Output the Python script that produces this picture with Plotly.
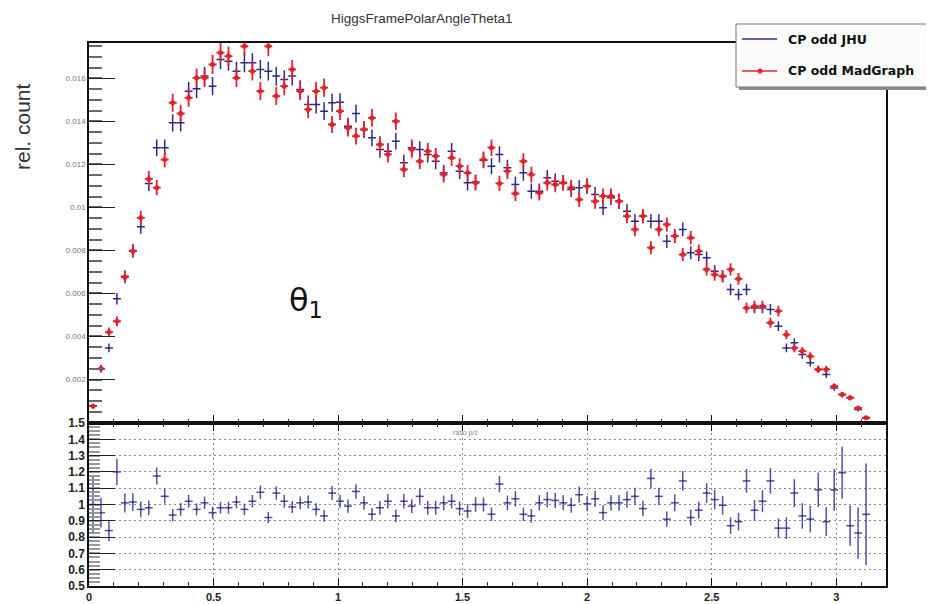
import numpy as np
import plotly.graph_objects as go

# ---------------- data ----------------
bin_width = 0.032  # 100 bins on [0, 3.2]

jhu = [0.00078, 0.0025, 0.00347, 0.00575, 0.0068, 0.0080, 0.0091, 0.01112, 0.01278, 0.01278,
       0.01394, 0.01394, 0.01541, 0.01552, 0.01611, 0.01564, 0.01688, 0.0168, 0.01634, 0.01673,
       0.01673, 0.01642, 0.01634, 0.01611, 0.01595, 0.01611, 0.01549, 0.01479, 0.01479, 0.01448,
       0.01487, 0.0149, 0.01378, 0.01437, 0.01363, 0.01324, 0.0127, 0.01262, 0.01308, 0.01208,
       0.01278, 0.0127, 0.01247, 0.01215, 0.01161, 0.01262, 0.01169, 0.01115, 0.01118, 0.0122,
       0.01192, 0.01247, 0.01185, 0.01107, 0.01161, 0.01076, 0.01076, 0.01138, 0.01122, 0.01115,
       0.01084, 0.01092, 0.01099, 0.0106, 0.00999, 0.01045, 0.01029, 0.00983, 0.00936, 0.0096,
       0.00936, 0.00936, 0.00843, 0.00867, 0.00898, 0.00789, 0.00781, 0.00766, 0.00704, 0.0068,
       0.00619, 0.00595, 0.00619, 0.00533, 0.00533, 0.00526, 0.00448, 0.00347, 0.00371, 0.00316,
       0.00278, 0.00247, 0.00223, 0.00161, 0.0013, 0.00115, 0.0006, 0.0002]

madgraph = [0.00076, 0.00251, 0.0042, 0.00471, 0.00676, 0.00797, 0.00952, 0.01133, 0.01092, 0.01223,
            0.01487, 0.01437, 0.0151, 0.01603, 0.01603, 0.01665, 0.0172, 0.01704, 0.01603, 0.0175,
            0.01634, 0.01541, 0.0175, 0.01518, 0.01564, 0.01642, 0.01541, 0.01456, 0.01541, 0.01557,
            0.01386, 0.01448, 0.0137, 0.01332, 0.01363, 0.01417, 0.01293, 0.01247, 0.01401, 0.01177,
            0.0127, 0.01215, 0.01262, 0.01239, 0.01153, 0.01231, 0.01192, 0.01161, 0.01115, 0.01223,
            0.01278, 0.01112, 0.01169, 0.01065, 0.01215, 0.01153, 0.01068, 0.01115, 0.01107, 0.01115,
            0.01092, 0.01037, 0.01099, 0.01029, 0.01053, 0.01053, 0.01029, 0.0096, 0.00898, 0.0096,
            0.00813, 0.00898, 0.00921, 0.00867, 0.00781, 0.00859, 0.00797, 0.00712, 0.00688, 0.0068,
            0.00712, 0.00668, 0.00533, 0.00541, 0.00541, 0.00464, 0.00518, 0.00409, 0.00347, 0.00332,
            0.00308, 0.00247, 0.00247, 0.00169, 0.0013, 0.00115, 0.00068, 0.00022]

ratio = [1.0, 0.95, 0.84, 1.20, 1.01, 1.015, 0.97, 0.98, 1.175, 1.05,
         0.935, 0.97, 1.02, 0.97, 1.01, 0.95, 0.98, 0.98, 1.015, 0.97,
         1.02, 1.075, 0.92, 1.07, 1.02, 0.985, 1.01, 1.015, 0.97, 0.93,
         1.07, 1.02, 0.99, 1.08, 1.01, 0.94, 0.98, 1.02, 0.93, 1.02,
         0.99, 1.05, 0.98, 0.98, 1.01, 1.02, 0.975, 0.96, 1.0, 1.0,
         0.94, 1.125, 1.01, 1.035, 0.94, 0.93, 1.01, 1.03, 1.025, 1.01,
         0.995, 1.06, 1.005, 1.035, 0.95, 1.01, 1.01, 1.03, 1.05, 0.975,
         1.16, 1.05, 0.91, 1.01, 1.145, 0.92, 0.965, 1.07, 1.03, 0.995,
         0.87, 0.895, 1.145, 0.965, 1.02, 1.145, 0.855, 0.855, 1.07, 0.93,
         0.91, 1.09, 0.895, 1.09, 1.195, 0.87, 0.825, 0.94]

top_ticks = [0.002, 0.004, 0.006, 0.008, 0.01, 0.012, 0.014, 0.016]
top_tick_text = ["0.002", "0.004", "0.006", "0.008", "0.01", "0.012", "0.014", "0.016"]
ratio_ticks = [0.5, 0.6, 0.7, 0.8, 0.9, 1.0, 1.1, 1.2, 1.3, 1.4, 1.5]
ratio_tick_text = ["0.5", "0.6", "0.7", "0.8", "0.9", "1", "1.1", "1.2", "1.3", "1.4", "1.5"]

# ---------------- derived ----------------
jhu_a = np.array(jhu)
mg_a = np.array(madgraph)
rat_a = np.array(ratio)
x = (np.arange(len(jhu)) + 0.5) * bin_width
k = 0.0034  # statistical error scale (err ~ k*sqrt(value))
err_j = k * np.sqrt(jhu_a)
err_m = k * np.sqrt(mg_a)
err_r = rat_a * k * np.sqrt(1.0 / jhu_a + 1.0 / mg_a)

BLUE = "#2c2c88"
RED = "#e0222c"
RBLUE = "rgba(50,50,150,0.85)"
FONT = "Liberation Sans"

OFF = 8  # page body margin
W, H = 934 - OFF, 604 - OFF
ML = 89 - OFF
MT = 43 - OFF
MR = W - (886 - OFF)
MB = H - (586 - OFF)
PW = W - ML - MR
PH = H - MT - MB


def px(p):
    """reference pixel x -> paper"""
    return (p - OFF - ML) / PW


def py(p):
    """reference pixel y -> paper"""
    return (H - MB - (p - OFF)) / PH


fig = go.Figure()

fig.add_trace(go.Scatter(
    x=x, y=jhu_a, mode="markers", xaxis="x", yaxis="y",
    marker=dict(size=2, color=BLUE),
    error_y=dict(type="data", array=err_j, color=BLUE, thickness=1.5, width=0),
    error_x=dict(type="constant", value=bin_width / 2, color=BLUE, thickness=1.5, width=0),
    showlegend=False, name="CP odd JHU"))

fig.add_trace(go.Scatter(
    x=x, y=mg_a, mode="markers", xaxis="x", yaxis="y",
    marker=dict(size=5, color=RED),
    error_y=dict(type="data", array=err_m, color=RED, thickness=1.8, width=0),
    error_x=dict(type="constant", value=bin_width / 2, color=RED, thickness=1.8, width=0),
    showlegend=False, name="CP odd MadGraph"))

fig.add_trace(go.Scatter(
    x=x, y=rat_a, mode="markers", xaxis="x2", yaxis="y2",
    marker=dict(size=2, color=RBLUE),
    error_y=dict(type="data", array=err_r, color=RBLUE, thickness=1.5, width=0),
    error_x=dict(type="constant", value=bin_width / 2, color=RBLUE, thickness=1.5, width=0),
    showlegend=False, name="ratio"))

top_dom = [py(422.5), py(43)]
bot_dom = [0, py(423)]

fig.update_layout(
    width=W, height=H,
    margin=dict(l=ML, r=MR, t=MT, b=MB, autoexpand=False),
    paper_bgcolor="white", plot_bgcolor="white",
    font=dict(family=FONT, color="#222"),
    showlegend=False,
    xaxis=dict(domain=[0, 1], range=[0, 3.2], anchor="y", showticklabels=False,
               ticks="inside", tick0=0, dtick=0.5, ticklen=8, tickcolor="#111", tickwidth=1.2,
               minor=dict(ticks="inside", dtick=0.1, ticklen=4, tickcolor="#333", tickwidth=1),
               showline=True, linecolor="#111", linewidth=1.5, mirror=True,
               showgrid=False, zeroline=False, automargin=False),
    yaxis=dict(domain=top_dom, range=[0, 0.01765], anchor="x",
               tickmode="array", tickvals=top_ticks, ticktext=top_tick_text,
               ticks="inside", ticklen=26, tickcolor="#222", tickwidth=1.3,
               minor=dict(ticks="inside", tick0=0, dtick=0.0005, ticklen=13, tickcolor="#666", tickwidth=1.5),
               tickfont=dict(size=8, color="#777"),
               showline=True, linecolor="#111", linewidth=1.5, mirror=True,
               showgrid=False, zeroline=False, automargin=False),
    xaxis2=dict(domain=[0, 1], range=[0, 3.2], anchor="y2", matches="x",
                ticks="inside", tick0=0, dtick=0.5, ticklen=8, tickcolor="#111", tickwidth=1.2,
                minor=dict(ticks="inside", dtick=0.1, ticklen=4, tickcolor="#333", tickwidth=1),
                showline=True, linecolor="#111", linewidth=1.5, mirror="ticks",
                showgrid=True, gridcolor="#8a8a8a", griddash="2px,3px", gridwidth=1,
                tickfont=dict(size=11, color="#222", family=FONT, weight="bold"),
                zeroline=False, automargin=False),
    yaxis2=dict(domain=bot_dom, range=[0.5, 1.5], anchor="x2",
                tickmode="array", tickvals=ratio_ticks, ticktext=ratio_tick_text,
                ticks="inside", ticklen=26, tickcolor="#222", tickwidth=1.3,
                minor=dict(ticks="inside", tick0=0.5, dtick=0.025, ticklen=11, tickcolor="#999", tickwidth=2),
                tickfont=dict(size=12, color="#222", family=FONT, weight="bold"),
                showline=True, linecolor="#111", linewidth=1.5, mirror=True,
                showgrid=True, gridcolor="#8a8a8a", griddash="2px,3px", gridwidth=1,
                zeroline=False, automargin=False),
)

shapes = []
# legend shadow + box
shapes.append(dict(type="rect", xref="paper", yref="paper", x0=px(739), x1=px(960), y0=py(90), y1=py(27),
                   fillcolor="#8a8a8a", line=dict(width=0), layer="above"))
shapes.append(dict(type="rect", xref="paper", yref="paper", x0=px(736), x1=px(960), y0=py(87), y1=py(24),
                   fillcolor="#fbfbfb", line=dict(color="#777", width=1), layer="above"))
shapes.append(dict(type="line", xref="paper", yref="paper", x0=px(742), x1=px(777), y0=py(39), y1=py(39),
                   line=dict(color=BLUE, width=1.5), layer="above"))
shapes.append(dict(type="line", xref="paper", yref="paper", x0=px(742), x1=px(777), y0=py(71), y1=py(71),
                   line=dict(color=RED, width=1.5), layer="above"))
shapes.append(dict(type="circle", xref="paper", yref="paper", x0=px(757.5), x1=px(762.5), y0=py(73.5), y1=py(68.5),
                   fillcolor=RED, line=dict(color=RED, width=0), layer="above"))
fig.update_layout(shapes=shapes)

ann = []
ann.append(dict(text="HiggsFramePolarAngleTheta1", xref="paper", yref="paper", x=px(422), y=py(OFF + 1),
                showarrow=False, font=dict(size=13.5, color="#333", family=FONT), xanchor="center", yanchor="top"))
ann.append(dict(text="rel. count", xref="paper", yref="paper", x=px(22), y=py(127), textangle=-90,
                showarrow=False, font=dict(size=21, color="#333", family=FONT), xanchor="center", yanchor="middle"))
ann.append(dict(text="θ<sub>1</sub>", xref="paper", yref="paper", x=px(306), y=py(302),
                showarrow=False, font=dict(size=32, color="#111", family="DejaVu Sans"), xanchor="center", yanchor="middle"))
ann.append(dict(text="ratio p/z", xref="paper", yref="paper", x=px(465), y=py(433),
                showarrow=False, font=dict(size=7, color="#888", family=FONT), xanchor="center", yanchor="middle"))
ann.append(dict(text="CP odd JHU", xref="paper", yref="paper", x=px(786), y=py(39),
                showarrow=False, font=dict(size=12.5, color="#111", family="DejaVu Sans", weight="bold"),
                xanchor="left", yanchor="middle"))
ann.append(dict(text="CP odd MadGraph", xref="paper", yref="paper", x=px(786), y=py(71),
                showarrow=False, font=dict(size=12.5, color="#111", family="DejaVu Sans", weight="bold"),
                xanchor="left", yanchor="middle"))
fig.update_layout(annotations=ann)

fig.write_html("out.html")
